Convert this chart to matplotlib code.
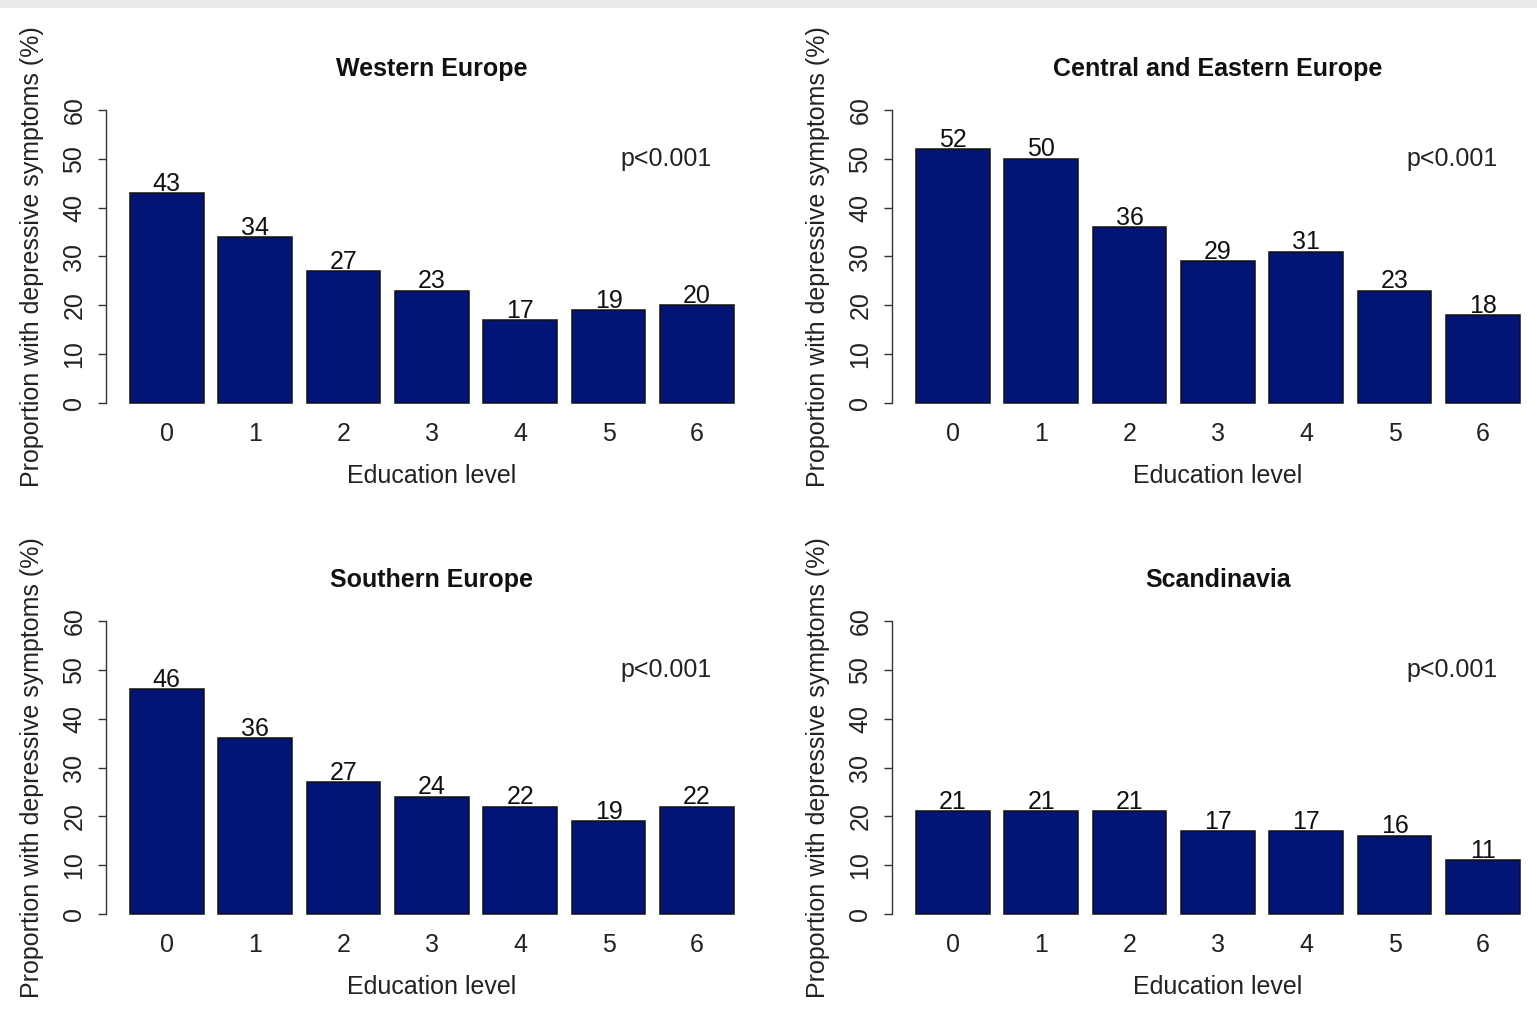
import matplotlib
matplotlib.use("Agg")
import matplotlib.pyplot as plt
from matplotlib.patches import Rectangle

plt.rcParams['font.family'] = ['Liberation Sans', 'DejaVu Sans']

education_levels = ["0", "1", "2", "3", "4", "5", "6"]
titles = ["Western Europe", "Central and Eastern Europe", "Southern Europe", "Scandinavia"]
western = [43, 34, 27, 23, 17, 19, 20]
central_eastern = [52, 50, 36, 29, 31, 23, 18]
southern = [46, 36, 27, 24, 22, 19, 22]
scandinavia = [21, 21, 21, 17, 17, 16, 11]
series = [western, central_eastern, southern, scandinavia]
p_text = "p<0.001"
y_ticks = [0, 10, 20, 30, 40, 50, 60]

W, H = 1537, 1013
fig = plt.figure(figsize=(W / 100, H / 100), dpi=100)
fig.patch.set_facecolor("white")
# light grey band at top
fig.add_artist(Rectangle((0, 1 - 8 / H), 1, 8 / H, transform=fig.transFigure,
                         facecolor="#ebebeb", edgecolor="none"))

bar_color = "#021476"
fs = 18

# panel pixel geometry (left, right, top, bottom)
x_offsets = [0, 786]
y_offsets = [0, 511]
base_left, base_right, base_top, base_bottom = 105.8, 758.0, 98.3, 414.7

positions = [0.7 + 1.2 * i for i in range(len(education_levels))]

for k, (vals, title) in enumerate(zip(series, titles)):
    r, c = divmod(k, 2)
    l = base_left + x_offsets[c]
    rr = base_right + x_offsets[c]
    t = base_top + y_offsets[r]
    b = base_bottom + y_offsets[r]
    ax = fig.add_axes([l / W, 1 - b / H, (rr - l) / W, (b - t) / H])
    ax.set_xlim(-0.128, 8.728)
    ax.set_ylim(-2.4, 62.4)
    ax.bar(positions, vals, width=1.0, color=bar_color, edgecolor="#111111", linewidth=1.1)
    for x, v in zip(positions, vals):
        ax.text(x, v + 0.5, str(v), ha="center", va="baseline", fontsize=fs, color="#111111")
    for s in ["top", "right", "bottom"]:
        ax.spines[s].set_visible(False)
    ax.spines["left"].set_bounds(0, 60)
    ax.spines["left"].set_color("#333333")
    ax.spines["left"].set_linewidth(1.0)
    ax.set_yticks(y_ticks)
    ax.set_yticklabels([str(v) for v in y_ticks], rotation=90, va="center")
    ax.tick_params(axis="y", length=6, width=1.0, color="#333333", pad=8, labelsize=fs,
                   labelcolor="#222222")
    ax.set_xticks(positions)
    ax.set_xticklabels(education_levels)
    ax.tick_params(axis="x", length=0, pad=5, labelsize=fs, labelcolor="#222222")
    ax.set_xlabel("Education level", fontsize=fs, labelpad=13, color="#222222")
    ax.set_ylabel("Proportion with depressive symptoms (%)", fontsize=fs, labelpad=13,
                  color="#222222")
    ax.text(0.5, 1.093, title, transform=ax.transAxes, ha="center", va="center",
            fontsize=fs, fontweight="bold", color="#111111")
    ax.text(7.477, 50.0, p_text, ha="center", va="center", fontsize=fs, color="#222222")
    ax.set_facecolor("none")

fig.savefig("out.png", dpi=100)
